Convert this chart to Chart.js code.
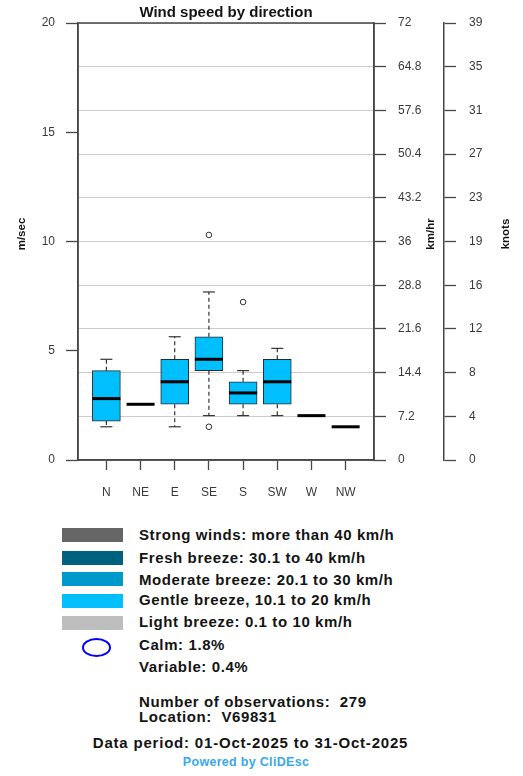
<!DOCTYPE html>
<html>
<head>
<meta charset="utf-8">
<script src="https://cdn.jsdelivr.net/npm/chart.js@4"></script>
<style>
body { margin: 0; background: #fff; font-family: "Liberation Sans", Arial, sans-serif; }
#wrap { position: relative; width: 523px; height: 776px; overflow: hidden; }
#chartBox { position: absolute; left: 0; top: 0; width: 523px; height: 510px; }
.txt { position: absolute; left: 139px; height: 20px; line-height: 20px; font-weight: bold; font-size: 15px; color: #141414; white-space: nowrap; letter-spacing: 0.6px; }
.sw { position: absolute; left: 62px; width: 61px; height: 14px; }
</style>
</head>
<body>
<div id="wrap">
  <div id="chartBox"><canvas id="windChart"></canvas></div>

  <div class="sw" style="top:528px;background:#666666"></div>
  <div class="txt" style="top:525px">Strong winds: more than 40 km/h</div>
  <div class="sw" style="top:551px;background:#00607f"></div>
  <div class="txt" style="top:548px">Fresh breeze: 30.1 to 40 km/h</div>
  <div class="sw" style="top:572px;background:#0099cc"></div>
  <div class="txt" style="top:570px">Moderate breeze: 20.1 to 30 km/h</div>
  <div class="sw" style="top:594px;background:#00bfff"></div>
  <div class="txt" style="top:590px">Gentle breeze, 10.1 to 20 km/h</div>
  <div class="sw" style="top:616px;background:#bebebe"></div>
  <div class="txt" style="top:612px">Light breeze: 0.1 to 10 km/h</div>
  <div style="position:absolute;left:82px;top:638px;width:25px;height:15px;border:2px solid #0000ff;border-radius:50%"></div>
  <div class="txt" style="top:635px">Calm: 1.8%</div>
  <div class="txt" style="top:657px">Variable: 0.4%</div>

  <div class="txt" style="top:692px">Number of observations:&nbsp; 279</div>
  <div class="txt" style="top:707px">Location:&nbsp; V69831</div>
  <div class="txt" style="top:733px;left:0;width:501px;text-align:center;letter-spacing:0.8px">Data period: 01-Oct-2025 to 31-Oct-2025</div>
  <div style="position:absolute;top:755px;left:0;width:492px;text-align:center;font-weight:bold;font-size:12.5px;letter-spacing:0.3px;color:#3aa8ea">Powered by CliDEsc</div>
</div>

<script>
// wind speed in m/sec
const directions = ['N', 'NE', 'E', 'SE', 'S', 'SW', 'W', 'NW'];
const lowerWhisker = [1.52, 2.55, 1.52, 2.03, 2.03, 2.03, 2.03, 1.52];
const lowerQuartile = [1.78, 2.55, 2.55, 4.09, 2.55, 2.55, 2.03, 1.52];
const medians = [2.81, 2.55, 3.58, 4.61, 3.07, 3.58, 2.03, 1.52];
const upperQuartile = [4.09, 2.55, 4.61, 5.64, 3.58, 4.61, 2.03, 1.52];
const upperWhisker = [4.61, 2.55, 5.64, 7.69, 4.09, 5.11, 2.03, 1.52];
const outlierDirs = ['SE', 'SE', 'S'];
const outlierValues = [10.3, 1.52, 7.23];

const msTicks = [0, 5, 10, 15, 20];
const gridMs = [0, 2, 4, 6, 8, 10, 12, 14, 16, 18, 20];
const kmhLabels = ['0', '7.2', '14.4', '21.6', '28.8', '36', '43.2', '50.4', '57.6', '64.8', '72'];
const knotLabels = ['0', '4', '8', '12', '16', '19', '23', '27', '31', '35', '39'];

Chart.defaults.font.family = '"Liberation Sans", Arial, sans-serif';
Chart.defaults.font.size = 12;
Chart.defaults.color = '#3a3a3a';

const axisColor = '#474747';

// whiskers, caps, plot frame and the titles
const boxExtras = {
  id: 'boxExtras',
  beforeDatasetsDraw(chart) {
    const x = chart.scales.x, y = chart.scales.y, ctx = chart.ctx;
    ctx.save();
    ctx.strokeStyle = '#222';
    ctx.lineWidth = 1.1;
    directions.forEach((d, i) => {
      const px = x.getPixelForValue(i);
      const pairs = [[upperQuartile[i], upperWhisker[i]], [lowerQuartile[i], lowerWhisker[i]]];
      pairs.forEach(([from, to]) => {
        if (from === to) return;
        ctx.setLineDash([4, 3]);
        ctx.beginPath();
        ctx.moveTo(px, y.getPixelForValue(from));
        ctx.lineTo(px, y.getPixelForValue(to));
        ctx.stroke();
        ctx.setLineDash([]);
        ctx.beginPath();
        ctx.moveTo(px - 6, y.getPixelForValue(to));
        ctx.lineTo(px + 6, y.getPixelForValue(to));
        ctx.stroke();
      });
    });
    ctx.restore();
  },
  afterDraw(chart) {
    const a = chart.chartArea, ctx = chart.ctx;
    ctx.save();
    ctx.strokeStyle = axisColor;
    ctx.lineWidth = 1.5;
    ctx.strokeRect(a.left, a.top, a.right - a.left, a.bottom - a.top);
    ctx.fillStyle = '#141414';
    ctx.textAlign = 'center';
    ctx.textBaseline = 'middle';
    ctx.font = 'bold 15px "Liberation Sans", Arial, sans-serif';
    ctx.fillText('Wind speed by direction', (a.left + a.right) / 2, 13);
    ctx.font = 'bold 11.5px "Liberation Sans", Arial, sans-serif';
    [['m/sec', 22], ['km/hr', 431], ['knots', 506]].forEach(([t, tx]) => {
      ctx.save();
      ctx.translate(tx, 234);
      ctx.rotate(-Math.PI / 2);
      ctx.fillText(t, 0, 0);
      ctx.restore();
    });
    ctx.restore();
  }
};

const fixedTicks = positions => scale => { scale.ticks = positions.map(v => ({ value: v })); };

new Chart(document.getElementById('windChart'), {
  type: 'bar',
  data: {
    datasets: [
      {
        type: 'bar',
        order: 3,
        data: directions.map((d, i) => ({ x: i, y: [lowerQuartile[i], upperQuartile[i]] })),
        backgroundColor: '#00bfff',
        borderColor: '#2a2a2a',
        borderWidth: 1,
        borderSkipped: false,
        barThickness: 28,
        yAxisID: 'y'
      },
      {
        type: 'scatter',
        order: 2,
        data: directions.map((d, i) => ({ x: i, y: medians[i] })),
        pointStyle: 'line',
        radius: 14,
        borderWidth: 3,
        borderColor: '#000',
        yAxisID: 'y'
      },
      {
        type: 'scatter',
        order: 1,
        data: outlierDirs.map((d, i) => ({ x: directions.indexOf(d), y: outlierValues[i] })),
        pointStyle: 'circle',
        radius: 2.8,
        borderWidth: 1,
        borderColor: '#333',
        backgroundColor: '#fff',
        yAxisID: 'y'
      }
    ]
  },
  options: {
    responsive: true,
    maintainAspectRatio: false,
    animation: false,
    events: [],
    layout: { padding: { top: 23, left: 0, right: 0, bottom: 0 } },
    plugins: { legend: { display: false }, tooltip: { enabled: false } },
    scales: {
      x: {
        type: 'linear',
        offset: false,
        min: -0.83,
        max: 7.83,
        afterBuildTicks: fixedTicks(directions.map((d, i) => i)),
        afterFit: s => { s.height = 50; },
        ticks: { callback: v => directions[v], padding: 15, maxRotation: 0, autoSkip: false, color: '#3a3a3a' },
        grid: { offset: false, drawOnChartArea: false, tickLength: 10, tickColor: axisColor, tickWidth: 1.3 },
        border: { color: axisColor, width: 1.5 }
      },
      y: {
        position: 'left',
        min: 0,
        max: 20,
        afterBuildTicks: fixedTicks(msTicks),
        afterFit: s => { s.width = 78; },
        ticks: { padding: 11 },
        grid: { drawOnChartArea: false, tickLength: 12, tickColor: axisColor, tickWidth: 1.3 },
        border: { color: axisColor, width: 1.5 }
      },
      kmh: {
        position: 'right',
        min: 0,
        max: 20,
        afterBuildTicks: fixedTicks(gridMs),
        afterFit: s => { s.width = 70; },
        ticks: { padding: 12, callback: (v, i) => kmhLabels[i] },
        grid: { drawOnChartArea: true, color: '#cccccc', lineWidth: 1, tickLength: 12, tickColor: axisColor, tickWidth: 1.3 },
        border: { color: axisColor, width: 1.5 }
      },
      knots: {
        position: 'right',
        min: 0,
        max: 20,
        afterBuildTicks: fixedTicks(gridMs),
        afterFit: s => { s.width = 79; },
        ticks: { padding: 13, callback: (v, i) => knotLabels[i] },
        grid: { drawOnChartArea: false, tickLength: 12, tickColor: axisColor, tickWidth: 1.3 },
        border: { color: axisColor, width: 1.5 }
      }
    }
  },
  plugins: [boxExtras]
});
</script>
</body>
</html>
